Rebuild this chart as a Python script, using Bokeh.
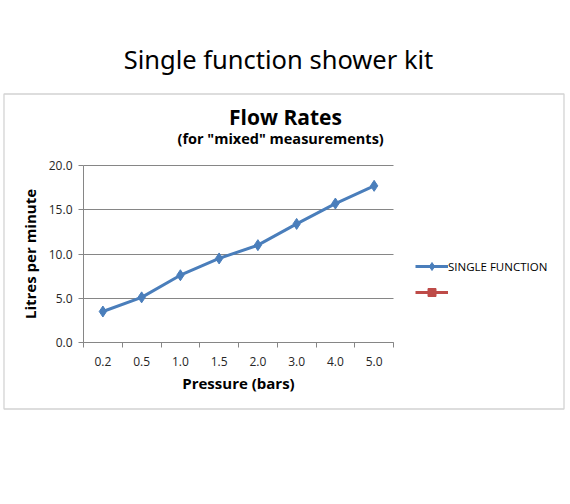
from bokeh.plotting import figure
from bokeh.models import (Range1d, FixedTicker, Label, Legend, LegendItem, LinearAxis,
                          Grid, BoxAnnotation, ColumnDataSource, NumeralTickFormatter)
from bokeh.embed import file_html
from bokeh.resources import INLINE

# Data
pressure = ["0.2", "0.5", "1.0", "1.5", "2.0", "3.0", "4.0", "5.0"]
flow = [3.5, 5.1, 7.6, 9.5, 11.0, 13.4, 15.7, 17.7]
# second series in the legend has no values plotted
other = [float("nan")] * len(pressure)
y_ticks = [0, 5, 10, 15, 20]
Y_MAX = 20

BLUE = "#4a7ebb"
RED = "#be4b48"
GRAY = "#868686"
FONT = "Open Sans"

# Canvas = whole page; plot area (axes box) in page pixels
W, H = 570, 504
FRAME_L, FRAME_R, FRAME_T, FRAME_B = 83, 393, 165, 342
N = len(pressure)


def dx(px):
    # page x pixel -> data x
    return (px - FRAME_L) / (FRAME_R - FRAME_L) * N


def dy(py):
    # page y pixel -> data y
    return (FRAME_B - py) / (FRAME_B - FRAME_T) * Y_MAX


x_pos = [i + 0.5 for i in range(N)]
src = ColumnDataSource(dict(x=x_pos, y=flow))
src2 = ColumnDataSource(dict(x=x_pos, y=other))

# the frame covers the whole canvas so nothing is clipped; axes sit at fixed spots
p = figure(width=W, height=H, output_backend="svg", toolbar_location=None,
           x_axis_type=None, y_axis_type=None,
           x_range=Range1d(dx(0), dx(W)), y_range=Range1d(dy(H), dy(0)),
           min_border_left=0, min_border_right=0, min_border_top=0, min_border_bottom=0)
p.outline_line_color = None
p.background_fill_color = "white"
p.border_fill_color = "white"
p.grid.grid_line_color = None

# outer chart box
p.add_layout(BoxAnnotation(left=dx(3.5), right=dx(563.5), top=dy(93.5), bottom=dy(408.5),
                           fill_alpha=0, line_color="#6e6e6e", line_width=1.3))

# horizontal gridlines, only across the plot area
ygrid = Grid(dimension=1, ticker=FixedTicker(ticks=y_ticks), cross_bounds=(0, N),
             grid_line_color=GRAY, grid_line_width=1)
p.add_layout(ygrid)

# series
l1 = p.line("x", "y", source=src, line_color=BLUE, line_width=3)
s1 = p.scatter("x", "y", source=src, marker="diamond", size=11,
               fill_color=BLUE, line_color=BLUE)
l2 = p.line("x", "y", source=src2, line_color=RED, line_width=3)
s2 = p.scatter("x", "y", source=src2, marker="square", size=7,
               fill_color=RED, line_color=RED)

# x axis: labels at category centres, tick marks between categories
xa = LinearAxis(fixed_location=0, bounds=(0, N),
                ticker=FixedTicker(ticks=x_pos, minor_ticks=list(range(N + 1))))
xa.major_label_overrides = {x: lab for x, lab in zip(x_pos, pressure)}
xa.major_tick_line_color = None
xa.major_tick_in = 0
xa.major_tick_out = 0
xa.minor_tick_in = 0
xa.minor_tick_out = 5
xa.minor_tick_line_color = GRAY
xa.major_label_standoff = 9
xa.axis_label = "Pressure (bars)"
xa.axis_label_standoff = 4

ya = LinearAxis(fixed_location=0, bounds=(0, Y_MAX), ticker=FixedTicker(ticks=y_ticks),
                formatter=NumeralTickFormatter(format="0.0"))
ya.major_tick_in = 0
ya.major_tick_out = 5
ya.major_tick_line_color = GRAY
ya.minor_tick_line_color = None
ya.major_label_standoff = 6
ya.axis_label = "Litres per minute"
ya.axis_label_standoff = 6

for ax in (xa, ya):
    ax.axis_line_color = GRAY
    ax.major_label_text_font = FONT
    ax.major_label_text_font_size = "12px"
    ax.major_label_text_color = "#262626"
    ax.axis_label_text_font = FONT
    ax.axis_label_text_font_size = "15px"
    ax.axis_label_text_font_style = "bold"
    ax.axis_label_text_color = "black"

p.add_layout(xa, "below")
p.add_layout(ya, "left")

# titles
p.add_layout(Label(x=dx(278), y=dy(58), text="Single function shower kit",
                   text_font="Noto Sans", text_font_size="25.5px",
                   text_align="center", text_baseline="middle", text_color="black"))
p.add_layout(Label(x=dx(285), y=dy(116), text="Flow Rates",
                   text_font=FONT, text_font_size="21px", text_font_style="bold",
                   text_align="center", text_baseline="middle", text_color="black"))
p.add_layout(Label(x=dx(282), y=dy(138), text='(for "mixed"  measurements)',
                   text_font=FONT, text_font_size="14.5px", text_font_style="bold",
                   text_align="center", text_baseline="middle", text_color="black"))

# legend: top-left corner at page (415, 256), two items of 20px with 6px gap
legend = Legend(items=[LegendItem(label="SINGLE FUNCTION", renderers=[l1, s1]),
                       LegendItem(label=" ", renderers=[l2, s2])],
                location=(415, H - 256 - 46))
legend.padding = 0
legend.margin = 0
legend.border_line_color = None
legend.background_fill_alpha = 0
legend.glyph_width = 33
legend.glyph_height = 20
legend.spacing = 6
legend.label_standoff = 0
legend.label_text_font = FONT
legend.label_text_font_size = "11.5px"
legend.label_text_color = "black"
p.add_layout(legend)

open("out.html", "w").write(file_html(p, INLINE))
